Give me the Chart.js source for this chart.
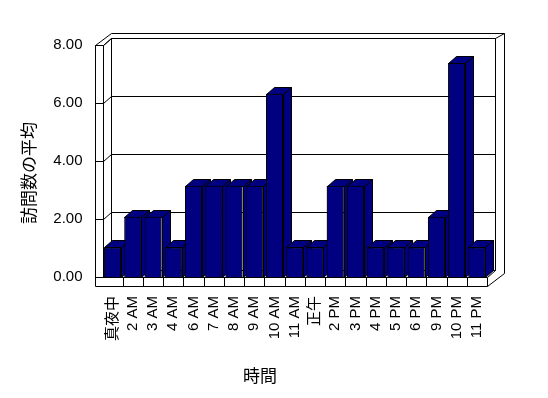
<!DOCTYPE html>
<html>
<head>
<meta charset="utf-8">
<script src="https://cdn.jsdelivr.net/npm/chart.js@4"></script>
<style>
  html, body { margin: 0; padding: 0; background: #fff; }
  canvas { display: block; }
</style>
</head>
<body>
<canvas id="chart" width="548" height="398"></canvas>
<script>
// 時間帯ごとの訪問数の平均
const hours = ['真夜中', '2 AM', '3 AM', '4 AM', '6 AM', '7 AM', '8 AM', '9 AM', '10 AM', '11 AM',
    '正午', '2 PM', '3 PM', '4 PM', '5 PM', '6 PM', '9 PM', '10 PM', '11 PM'];
const visits = [1.02, 2.08, 2.08, 1.02, 3.15, 3.15, 3.15, 3.15, 6.32, 1.02,
    1.02, 3.15, 3.15, 1.02, 1.02, 1.02, 2.08, 7.38, 1.02];
const yTicks = [0, 2, 4, 6, 8];
const yTitle = '訪問数の平均';
const xTitle = '時間';

const navy = '#000080';
const wallDepth = { x: 8, y: -6.7 };
const barDepth = { x: 8, y: -7 };

const px = v => Math.round(v) + 0.5;

function line(ctx, pts) {
    ctx.beginPath();
    ctx.moveTo(px(pts[0][0]), px(pts[0][1]));
    for (let i = 1; i < pts.length; i++) ctx.lineTo(px(pts[i][0]), px(pts[i][1]));
    ctx.stroke();
}

// 壁と床（3D風の箱）
const box3d = {
    id: 'box3d',
    beforeDatasetsDraw(chart) {
        const ctx = chart.ctx;
        const a = chart.chartArea;
        const y = chart.scales.y;
        const L = a.left, R = a.right, T = a.top, B = a.bottom;
        const wl = L - 7.5;          // 左壁の前面
        const fb = B + 9;            // 床の前面の下
        const bx = L + wallDepth.x, by = wallDepth.y;
        ctx.save();
        ctx.strokeStyle = '#000';
        ctx.lineWidth = 1;
        ctx.fillStyle = '#fff';

        // 外形
        ctx.beginPath();
        ctx.moveTo(px(wl), px(fb));
        ctx.lineTo(px(wl), px(T));
        ctx.lineTo(px(bx), px(T - 12));
        ctx.lineTo(px(R + 16.5), px(T - 12));
        ctx.lineTo(px(R + 16.5), px(B - 4));
        ctx.lineTo(px(R), px(fb));
        ctx.closePath();
        ctx.fill();
        ctx.stroke();

        // 左壁
        line(ctx, [[wl, T], [L, T], [L, B]]);
        line(ctx, [[L, T], [bx, T + by], [R + wallDepth.x, T + by], [R + 16.5, T - 12]]);
        line(ctx, [[bx, T + by], [bx, B + by]]);
        line(ctx, [[R + wallDepth.x, T + by], [R + wallDepth.x, B + by]]);

        // 床
        line(ctx, [[wl, B], [R, B]]);
        line(ctx, [[L, B], [bx, B + by], [R + wallDepth.x, B + by], [R, B]]);
        line(ctx, [[R, B], [R, fb]]);
        const step = chart.scales.x.getPixelForTick(1) - chart.scales.x.getPixelForTick(0);
        chart.scales.x.ticks.forEach((t, i) => {
            const xx = chart.scales.x.getPixelForTick(i) + step / 2;
            if (i < hours.length - 1) line(ctx, [[xx, B], [xx, fb]]);
        });

        // 目盛線
        yTicks.forEach(v => {
            if (v === 0) return;
            const yy = y.getPixelForValue(v);
            line(ctx, [[wl, yy], [L, yy], [bx, yy + by], [R + wallDepth.x, yy + by]]);
        });
        ctx.restore();
    },
    afterDatasetsDraw(chart) {
        const ctx = chart.ctx;
        const meta = chart.getDatasetMeta(0);
        ctx.save();
        ctx.strokeStyle = '#000';
        ctx.lineWidth = 1;
        ctx.fillStyle = navy;
        meta.data.forEach(bar => {
            const l = bar.x - bar.width / 2, r = bar.x + bar.width / 2;
            const t = bar.y, b = bar.base;
            const dx = barDepth.x, dy = barDepth.y;
            // 側面
            ctx.beginPath();
            ctx.moveTo(px(r), px(b));
            ctx.lineTo(px(r), px(t));
            ctx.lineTo(px(r + dx), px(t + dy));
            ctx.lineTo(px(r + dx), px(b + dy));
            ctx.closePath();
            ctx.fill();
            ctx.stroke();
            // 上面
            ctx.beginPath();
            ctx.moveTo(px(l), px(t));
            ctx.lineTo(px(l + dx), px(t + dy));
            ctx.lineTo(px(r + dx), px(t + dy));
            ctx.lineTo(px(r), px(t));
            ctx.closePath();
            ctx.fill();
            ctx.stroke();
            bar.draw(ctx);
        });
        ctx.restore();
    },
    afterDraw(chart) {
        const ctx = chart.ctx;
        ctx.save();
        ctx.fillStyle = '#000';
        ctx.font = '17px "Noto Sans CJK JP"';
        ctx.textAlign = 'center';
        ctx.textBaseline = 'middle';
        ctx.fillText(xTitle, 260, 376);
        ctx.translate(29, 173);
        ctx.rotate(-Math.PI / 2);
        ctx.fillText(yTitle, 0, 0);
        ctx.restore();
    }
};

const ctx = document.getElementById('chart').getContext('2d');
const chart = new Chart(ctx, {
    type: 'bar',
    data: {
        labels: hours,
        datasets: [{
            label: yTitle,
            data: visits,
            backgroundColor: navy,
            borderColor: '#000',
            borderWidth: 1,
            barPercentage: 0.84,
            categoryPercentage: 1,
        }],
    },
    options: {
        responsive: false,
        animation: false,
        devicePixelRatio: 1,
        layout: {
            padding: { left: 0, right: 61, top: 45, bottom: 0 },
        },
        plugins: {
            legend: { display: false },
            tooltip: { enabled: false },
        },
        scales: {
            x: {
                grid: { display: false, drawTicks: false },
                border: { display: false },
                afterFit: s => { s.height = 121; },
                ticks: {
                    autoSkip: false,
                    minRotation: 90,
                    maxRotation: 90,
                    padding: 19,
                    color: '#000',
                    font: { family: '"Liberation Sans", "Noto Sans CJK JP"', size: 15 },
                },
            },
            y: {
                min: 0,
                max: 8,
                grid: { display: false, drawTicks: false },
                border: { display: false },
                afterFit: s => { s.width = 102.5; },
                afterBuildTicks: s => { s.ticks = yTicks.map(v => ({ value: v })); },
                ticks: {
                    padding: 20,
                    color: '#000',
                    font: { family: '"Liberation Sans"', size: 15 },
                    callback: v => v.toFixed(2),
                },
            },
        },
    },
    plugins: [box3d],
});
</script>
</body>
</html>
